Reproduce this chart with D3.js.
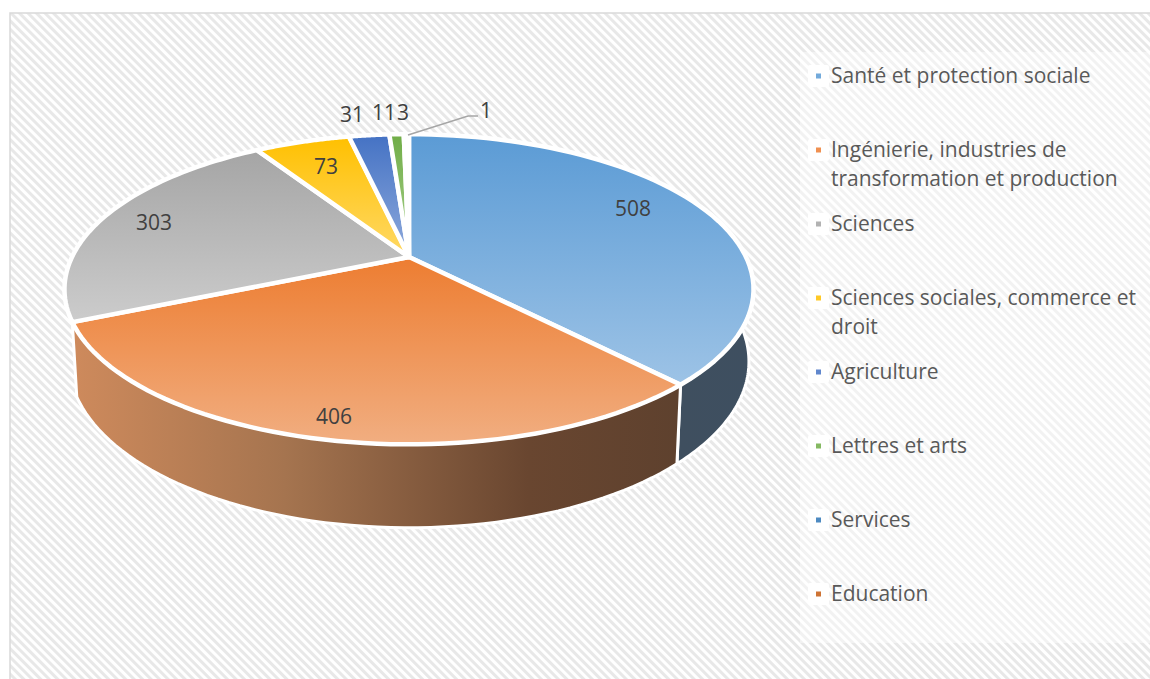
<!DOCTYPE html>
<html><head><meta charset="utf-8">
<script src="https://cdn.jsdelivr.net/npm/d3@7"></script>
<style>html,body{margin:0;padding:0;background:#fff}svg{display:block}</style></head>
<body><svg id="c" width="1150" height="679"></svg>
<script>
const categories = ["Santé et protection sociale","Ingénierie, industries de|transformation et production","Sciences","Sciences sociales, commerce et|droit","Agriculture","Lettres et arts","Services","Education"];
const values = [508,406,303,73,31,11,3,1];
const topA = ["#5B9BD5","#ED7D31","#A5A5A5","#FFC000","#4472C4","#70AD47","#255E91","#C55A11"];
const topB = ["#9DC3E6","#F1AE81","#CCCCCC","#FFD966","#8FAADC","#A9D18E","#5B9BD5","#F4B183"];
const legendDot = ["#5B9BD5","#ED7D31","#A5A5A5","#FFC000","#4472C4","#70AD47","#2E75B6","#C55A11"];
const legendRows = [76,150,224,298,372,446,520,594];
const labelPos = [[633,209],[334,417],[154,223],[326,167],[352,115],[384,113],[403,113],[486,111]];

const W=1150,H=679, svg=d3.select("#c");
const defs=svg.append("defs");
const hatch=defs.append("pattern").attr("id","hatch").attr("width",6).attr("height",6)
  .attr("patternUnits","userSpaceOnUse").attr("patternTransform","rotate(45)");
hatch.append("rect").attr("width",6).attr("height",6).attr("fill","#fff");
hatch.append("rect").attr("width",6).attr("height",3).attr("fill","#e8e8e8");
svg.append("rect").attr("x",10).attr("y",13).attr("width",W).attr("height",H).attr("fill","url(#hatch)").attr("stroke","#d9d9d9").attr("stroke-width",1.5);
svg.append("rect").attr("x",800).attr("y",52).attr("width",350).attr("height",591).attr("fill","#fff").attr("opacity",.45);

const pie=d3.pie().sort(null).value(d=>d);
const arcs=pie(values);
const cx=409, cy=257, k=.208, a=337, b=148.4;
const a2=332.5, y2=327, b2=159;
const P=t=>{const w=1+k*Math.cos(t);return [cx+a*Math.sin(t)/w, cy-b*Math.cos(t)/w]};
const Q=t=>{const w=1+k*Math.cos(t);return [cx+a2*Math.sin(t)/w, y2-b2*Math.cos(t)/w]};
const line=d3.line();
const samples=(s,e)=>d3.range(0,61).map(i=>s+(e-s)*i/60);

const grad=(id,x1,y1,x2,y2,stops)=>{const g=defs.append("linearGradient").attr("id",id).attr("gradientUnits","userSpaceOnUse")
  .attr("x1",x1).attr("y1",y1).attr("x2",x2).attr("y2",y2);
  stops.forEach(s=>g.append("stop").attr("offset",s[0]).attr("stop-color",s[1]));};
arcs.forEach((d,i)=>{
  const pts=samples(d.startAngle,d.endAngle).map(P).concat([[cx,cy]]);
  const ys=pts.map(p=>p[1]);
  grad("g"+i,0,d3.min(ys),0,d3.max(ys),[[0,topA[i]],[1,topB[i]]]);
});
grad("wallO",73,0,680,0,[[0,"#CE8A5C"],[.35,"#A5744F"],[.75,"#694630"],[1,"#5E412E"]]);
grad("wallB",676,0,752,0,[[0,"#3F4F5F"],[1,"#3E4F60"]]);

const wall=(s,e,fill)=>{
  const ss=samples(s,e);
  const poly=ss.map(P).concat(ss.slice().reverse().map(Q));
  svg.append("path").attr("d",line(poly)+"Z").attr("fill",fill).attr("stroke","#fff").attr("stroke-width",3).attr("stroke-linejoin","round");
};
wall(Math.PI*.5,arcs[0].endAngle,"url(#wallB)");
wall(arcs[1].startAngle,arcs[1].endAngle,"url(#wallO)");

arcs.forEach((d,i)=>{
  const poly=[[cx,cy]].concat(samples(d.startAngle,d.endAngle).map(P));
  svg.append("path").attr("d",line(poly)+"Z").attr("fill",`url(#g${i})`).attr("stroke","#fff").attr("stroke-width",4.5).attr("stroke-linejoin","round");
});

const txt="#404040";
labelPos.forEach((p,i)=>{
  svg.append("text").attr("x",p[0]).attr("y",p[1]).attr("dy","0.35em").attr("text-anchor","middle")
    .attr("font-family","'Open Sans',sans-serif").attr("font-size",21).attr("fill",txt).text(values[i]);
});
svg.append("path").attr("d","M408,135L468,116L478,116").attr("fill","none").attr("stroke","#a6a6a6").attr("stroke-width",1.5);

categories.forEach((c,i)=>{
  const y=legendRows[i];
  svg.append("rect").attr("x",808).attr("y",y-11).attr("width",21).attr("height",22).attr("rx",2).attr("fill","#fff");
  svg.append("rect").attr("x",816).attr("y",y-2.5).attr("width",5).attr("height",5).attr("fill",legendDot[i]).attr("opacity",.85);
  c.split("|").forEach((t,j)=>{
    svg.append("text").attr("x",831).attr("y",y+j*28.5).attr("dy","0.35em")
      .attr("font-family","'Open Sans',sans-serif").attr("font-size",21).attr("fill","#595959").text(t);
  });
});
</script></body></html>
